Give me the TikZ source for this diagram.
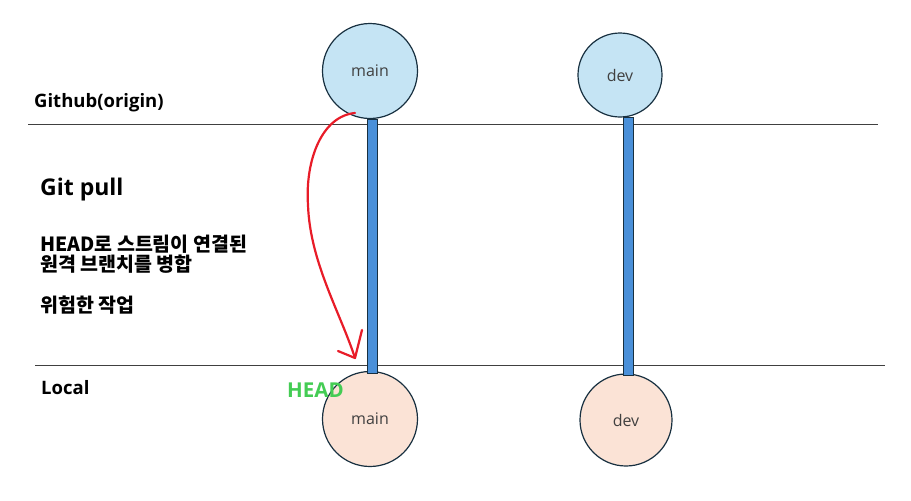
\documentclass[tikz,border=0pt]{standalone}
\usepackage{fontspec}
\setmainfont{Open Sans}
\newfontfamily\krfont{Noto Sans CJK KR}
\usetikzlibrary{positioning,calc}

\definecolor{remotefill}{RGB}{197,228,244}
\definecolor{localfill}{RGB}{251,227,214}
\definecolor{circline}{RGB}{24,48,64}
\definecolor{barblue}{RGB}{74,144,217}
\definecolor{headgreen}{RGB}{68,204,84}
\definecolor{pullred}{RGB}{232,28,40}

\tikzset{
  branch/.style={circle, draw=circline, line width=1.2pt, inner sep=0pt, text=black!75, font=\fontsize{16}{18}\selectfont},
  stream/.style={draw=circline, fill=barblue, line width=0.9pt},
  divider/.style={draw=black!75, line width=0.9pt},
  label/.style={anchor=west, inner sep=0pt, font=\bfseries\fontsize{18.5}{22}\selectfont},
  krlabel/.style={anchor=west, inner sep=0pt, font=\krfont\bfseries\fontsize{19.5}{20}\selectfont}
}

\begin{document}
\begin{tikzpicture}[x=1pt, y=-1pt]
	\useasboundingbox (0,0) rectangle (911,501);

	% Define nodes with their coordinates
	\node[branch, fill=remotefill, minimum size=95pt] (omain) at (370, 71) {main};
	\node[branch, fill=remotefill, minimum size=84pt] (odev) at (620, 75) {dev};
	\node[branch, fill=localfill, minimum size=95pt] (lmain) at (370, 419) {main};
	\node[branch, fill=localfill, minimum size=92pt] (ldev) at (626, 420) {dev};

	% Dividers
	\coordinate (tl) at (28, 124);
	\coordinate (tr) at (878, 124);
	\coordinate (bl) at (35, 365);
	\coordinate (br) at (885, 365);
	\draw[divider] (tl) -- (tr);
	\draw[divider] (bl) -- (br);

	% Streams between branches
	\draw[stream] ($(omain.south)+(-3,0)$) rectangle ($(lmain.north)+(7,3)$);
	\draw[stream] ($(odev.south)+(3,0)$) rectangle ($(ldev.north)+(7,2)$);

	% Texts
	\node[label] (github) at (34, 103) {Github(origin)};
	\node[label, font=\bfseries\fontsize{23}{26}\selectfont] (pull) at (40, 190) {Git pull};
	\node[krlabel] (desc) at (40, 244) {HEAD로 스트림이 연결된};
	\node[krlabel] (desc2) at (40, 264) {원격 브랜치를 병합};
	\node[krlabel] (risk) at (40, 305) {위험한 작업};
	\node[label] (local) at (41, 388) {Local};
	\node[label, text=headgreen, font=\bfseries\fontsize{20.5}{24}\selectfont] (head) at (287, 390) {HEAD};

	% Pull arrow
	\coordinate (pstart) at (355, 113);
	\coordinate (pend) at (355, 358);
	\draw[pullred, line width=2.2pt, line cap=round]
		(pstart) .. controls (322, 116) and (305, 160) .. (308, 205)
		.. controls (310, 262) and (340, 312) .. (pend);
	\draw[pullred, line width=2.2pt, line cap=round, line join=round]
		(338, 351) -- (pend) -- (362, 330);
\end{tikzpicture}
\end{document}
